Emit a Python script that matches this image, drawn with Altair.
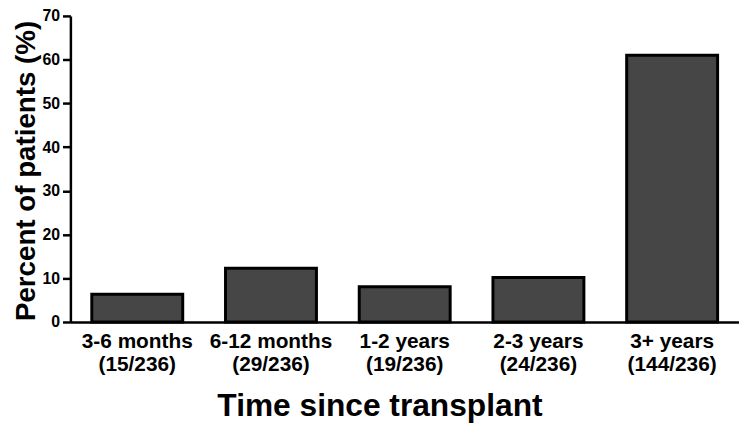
import altair as alt
import pandas as pd

categories = ["3-6 months\n(15/236)", "6-12 months\n(29/236)", "1-2 years\n(19/236)",
              "2-3 years\n(24/236)", "3+ years\n(144/236)"]
percent = [6.36, 12.29, 8.05, 10.17, 61.02]
y_ticks = [0, 10, 20, 30, 40, 50, 60, 70]

df = pd.DataFrame({"cat": categories, "pct": percent})

FONT = "Liberation Sans"

chart = alt.Chart(df).mark_bar(
    color="#464646", stroke="black", strokeWidth=3
).encode(
    x=alt.X("cat:N", sort=categories,
            scale=alt.Scale(paddingInner=0.32, paddingOuter=0.16),
            axis=alt.Axis(
                title="Time since transplant",
                labelExpr="split(datum.label, '\\n')",
                labelAngle=0, labelFontSize=21, labelFontWeight="bold",
                labelLineHeight=23, labelBaseline="top", labelPadding=9,
                labelColor="black", labelFont=FONT,
                ticks=False, domainColor="black", domainWidth=2.5,
                titleFontSize=32, titleFontWeight="bold", titleFont=FONT,
                titleColor="black", titleX=312, titleY=94,
                titleBaseline="alphabetic", titleAlign="center",
            )),
    y=alt.Y("pct:Q", scale=alt.Scale(domain=[0, 70], nice=False),
            axis=alt.Axis(
                title="Percent of patients (%)", values=y_ticks, grid=False,
                labelFontSize=16, labelFontWeight="bold", labelFont=FONT,
                labelColor="black", labelPadding=3,
                tickSize=8, tickWidth=2.5, tickColor="black",
                domainColor="black", domainWidth=2.5,
                titleFontSize=28, titleFontWeight="bold", titleFont=FONT,
                titleColor="black", titleX=-36, titleY=156,
                titleAngle=270, titleBaseline="alphabetic", titleAlign="center",
            )),
).properties(
    width=675, height=309,
    padding={"left": 63, "top": 6, "right": 0, "bottom": 101},
    autosize=alt.AutoSizeParams(type="none"),
    background="white",
).configure_view(strokeWidth=0, stroke="transparent")

chart.save("out.html", embed_options={"renderer": "svg", "actions": False})
